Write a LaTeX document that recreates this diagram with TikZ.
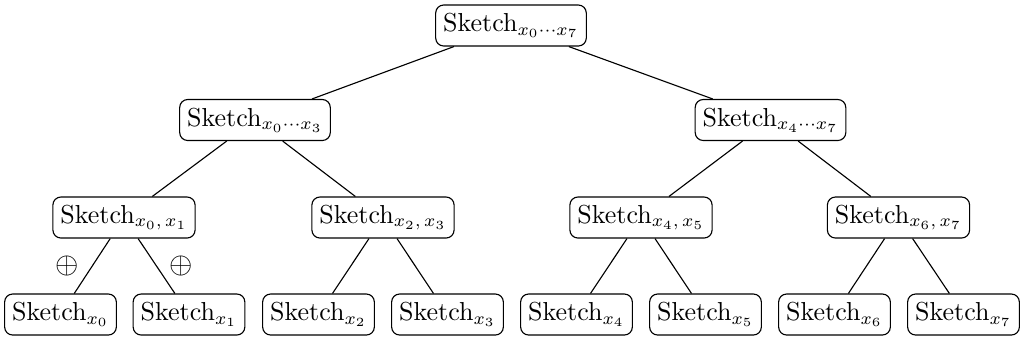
\documentclass[tikz,border=0pt]{standalone}
\begin{document}
\begin{tikzpicture}[x=0.4pt,y=-0.4pt,
  sk/.style={draw, rounded corners=3.2pt, line width=0.45pt, minimum height=16.4pt,
    inner xsep=3pt, inner ysep=0pt, font=\fontsize{10.4}{12}\selectfont},
  leaf/.style={sk, minimum width=44.4pt},
  mid/.style={sk, minimum width=54.4pt},
  top/.style={sk, minimum width=59.6pt},
  edge/.style={line width=0.45pt},
  op/.style={font=\large, inner sep=0pt}]
\useasboundingbox (0,0) rectangle (1021,343);
% root
\node[top] (r) at (511,25.5) {Sketch$_{x_0\cdots x_7}$};
% first level
\node[top] (a) at (255,120) {Sketch$_{x_0\cdots x_3}$};
\node[top] (b) at (770.5,120) {Sketch$_{x_4\cdots x_7}$};
% second level
\node[mid] (a1) at (124,217.5) {Sketch$_{x_0,\,x_1}$};
\node[mid] (a2) at (383,217.5) {Sketch$_{x_2,\,x_3}$};
\node[mid] (b1) at (641,217.5) {Sketch$_{x_4,\,x_5}$};
\node[mid] (b2) at (898.5,217.5) {Sketch$_{x_6,\,x_7}$};
% leaves
\node[leaf] (l0) at (60.5,314.5) {Sketch$_{x_0}$};
\node[leaf] (l1) at (189,314.5) {Sketch$_{x_1}$};
\node[leaf] (l2) at (318.5,314.5) {Sketch$_{x_2}$};
\node[leaf] (l3) at (447.5,314.5) {Sketch$_{x_3}$};
\node[leaf] (l4) at (576.5,314.5) {Sketch$_{x_4}$};
\node[leaf] (l5) at (705.5,314.5) {Sketch$_{x_5}$};
\node[leaf] (l6) at (834.5,314.5) {Sketch$_{x_6}$};
\node[leaf] (l7) at (963.5,314.5) {Sketch$_{x_7}$};
% connectors
\draw[edge] (r) -- (a);
\draw[edge] (r) -- (b);
\draw[edge] (a) -- (a1);
\draw[edge] (a) -- (a2);
\draw[edge] (b) -- (b1);
\draw[edge] (b) -- (b2);
\draw[edge] (a1) -- node[op, midway, left=5pt] {$\oplus$} (l0);
\draw[edge] (a1) -- node[op, midway, right=5pt] {$\oplus$} (l1);
\draw[edge] (a2) -- (l2);
\draw[edge] (a2) -- (l3);
\draw[edge] (b1) -- (l4);
\draw[edge] (b1) -- (l5);
\draw[edge] (b2) -- (l6);
\draw[edge] (b2) -- (l7);
\end{tikzpicture}
\end{document}
